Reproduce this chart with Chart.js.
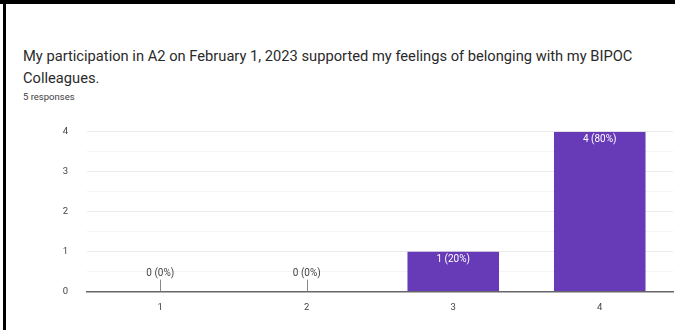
<!DOCTYPE html>
<html>
<head>
<meta charset="utf-8">
<script src="https://cdn.jsdelivr.net/npm/chart.js@4.4.1/dist/chart.umd.min.js"></script>
<style>
  html, body { margin: 0; padding: 0; background: #fff; }
  body { width: 675px; height: 330px; position: relative; overflow: hidden; font-family: Roboto, Arial, sans-serif; }
  .topbar { position: absolute; left: 0; top: 0; width: 675px; height: 4px; background: #000; }
  .leftbar { position: absolute; left: 3px; top: 0; width: 3px; height: 330px; background: #000; }
  .titre { position: absolute; left: 23px; top: 45px; width: 640px; font-size: 14.7px; line-height: 22px; color: #2a2a2a; }
  .respostas { position: absolute; left: 23px; top: 91px; font-size: 9.5px; color: #3c4043; }
  .grafico { position: absolute; left: 0; top: 107px; width: 675px; height: 223px; }
</style>
</head>
<body>
<div class="topbar"></div>
<div class="leftbar"></div>
<div class="titre">My participation in A2 on February 1, 2023 supported my feelings of belonging with my BIPOC Colleagues.</div>
<div class="respostas">5 responses</div>
<div class="grafico"><canvas id="graficoRespostas" width="675" height="223"></canvas></div>
<script>
// dados
const categorias = ['1', '2', '3', '4'];
const respostas = [0, 0, 1, 4];
const porcentagens = ['0%', '0%', '20%', '80%'];
const ticksY = [0, 1, 2, 3, 4];

// rótulos "n (x%)" em cima / dentro das barras
const rotulosBarras = {
    id: 'rotulosBarras',
    afterDatasetsDraw(chart) {
        const ctx = chart.ctx;
        const meta = chart.getDatasetMeta(0);
        const escalaY = chart.scales.y;
        ctx.save();
        ctx.font = '10px Roboto, Arial, sans-serif';
        ctx.textAlign = 'center';
        ctx.textBaseline = 'middle';
        meta.data.forEach((barra, i) => {
            const texto = respostas[i] + ' (' + porcentagens[i] + ')';
            const base = escalaY.getPixelForValue(0);
            if (respostas[i] === 0) {
                ctx.strokeStyle = '#888';
                ctx.lineWidth = 1;
                ctx.beginPath();
                ctx.moveTo(Math.round(barra.x) + 0.5, base);
                ctx.lineTo(Math.round(barra.x) + 0.5, base - 12);
                ctx.stroke();
                ctx.fillStyle = '#444';
                ctx.fillText(texto, barra.x, base - 18);
            } else {
                ctx.fillStyle = '#fff';
                ctx.fillText(texto, barra.x, barra.y + 8);
            }
        });
        ctx.restore();
    }
};

const ctx = document.getElementById('graficoRespostas').getContext('2d');
new Chart(ctx, {
    type: 'bar',
    data: {
        labels: categorias,
        datasets: [{
            data: respostas,
            backgroundColor: '#673ab7',
            borderWidth: 0,
            barPercentage: 0.625,
            categoryPercentage: 1
        }]
    },
    options: {
        responsive: false,
        animation: false,
        layout: { padding: { top: 18, right: 2, left: 0, bottom: 15 } },
        plugins: { legend: { display: false }, tooltip: { enabled: false } },
        scales: {
            x: {
                grid: { display: false },
                border: { color: '#666', width: 1.5 },
                ticks: { color: '#444', font: { family: 'Roboto', size: 9.5 }, padding: 2 }
            },
            y: {
                min: 0,
                max: 4,
                afterFit(escala) { escala.width = 87; },
                afterBuildTicks(escala) {
                    // linhas de grade a cada 0,5
                    const t = [];
                    ticksY.forEach((v, i) => {
                        t.push({ value: v });
                        if (i < ticksY.length - 1) t.push({ value: v + 0.5 });
                    });
                    escala.ticks = t;
                },
                border: { display: false },
                grid: {
                    color: c => Number.isInteger(c.tick.value) ? '#ebebeb' : '#f4f4f4',
                    drawTicks: false
                },
                ticks: {
                    color: '#444',
                    font: { family: 'Roboto', size: 9.5 },
                    padding: 19,
                    callback: v => Number.isInteger(v) ? v : ''
                }
            }
        }
    },
    plugins: [rotulosBarras]
});
</script>
</body>
</html>
